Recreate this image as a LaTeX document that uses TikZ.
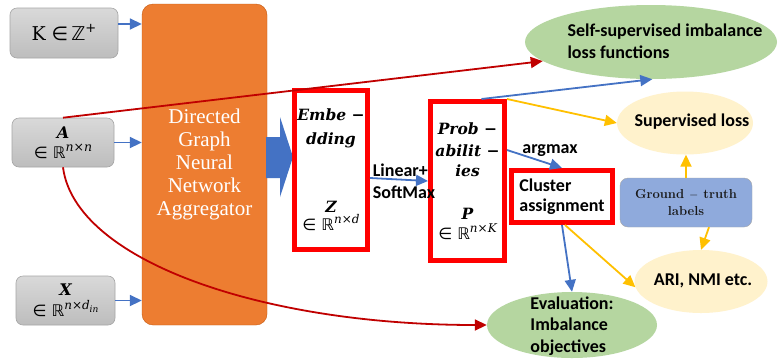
\documentclass[tikz,border=0pt]{standalone}
\usepackage{fontspec}
\newfontfamily\carl{Carlito}
\newfontfamily\serifb{Liberation Serif}
\newfontfamily\dvs{DejaVu Serif}
\newfontfamily\dvsans{DejaVu Sans}
\newcommand{\bi}[1]{{\dvs\bfseries\itshape #1}}
\newcommand{\supr}[3]{\raisebox{#1}{\fontsize{#2}{#2}\selectfont\dvs\itshape #3}}
\newcommand{\inR}{{\dvsans ∈ ℝ}}
\usetikzlibrary{arrows.meta,shapes.geometric,calc}
\definecolor{myblue}{HTML}{4472C4}
\definecolor{myred}{HTML}{C00000}
\definecolor{myyel}{HTML}{FFC000}
\definecolor{myorange}{HTML}{ED7D31}
\definecolor{orangeedge}{HTML}{C55A11}
\definecolor{mygreen}{HTML}{B5D6A0}
\definecolor{mycream}{HTML}{FFF2CC}
\definecolor{gtblue}{HTML}{8FAADC}
\definecolor{grayedge}{HTML}{A6A6A6}
\definecolor{graytop}{HTML}{D9D9D9}
\definecolor{graybot}{HTML}{BDBDBD}
\definecolor{boxred}{HTML}{FF0000}
\begin{document}
\begin{tikzpicture}[x=1pt,y=-1pt,
  graybox/.style={draw=grayedge, rounded corners=7pt, top color=graytop, bottom color=graybot, inner sep=0pt, line width=0.6pt, align=center},
  redbox/.style={draw=boxred, line width=5pt, fill=white, inner sep=0pt, align=center},
  ell/.style={ellipse, inner sep=0pt, draw=none},
  tip/.style={-{Triangle[length=12pt,width=11pt]}},
  barrow/.style={myblue, line width=1.8pt, tip},
  rarrow/.style={myred, line width=1.8pt, tip},
  yarrow/.style={myyel, line width=1.8pt, tip},
  sanslab/.style={font=\carl\bfseries\fontsize{18}{22}\selectfont, align=left, inner sep=0pt},
  elltext/.style={font=\carl\bfseries\fontsize{18}{21.5}\selectfont, align=left, inner sep=0pt}
]
\fill[white] (0,0) rectangle (778,360);
\useasboundingbox (0,0) rectangle (778,360);

% input boxes
\node[graybox, minimum width=108pt, minimum height=50pt, font=\fontsize{19}{22}\selectfont] (K) at (64,33) {{\dvs K} {\dvsans ∈\,ℤ}\raisebox{8pt}{\fontsize{13}{13}\selectfont\dvsans +}};
\node[graybox, minimum width=102pt, minimum height=49pt, font=\fontsize{16}{20}\selectfont] (A) at (63,142.5) {\bi{A}\\\inR\supr{7pt}{12.5}{n×n}};
\node[graybox, minimum width=99pt, minimum height=49pt, font=\fontsize{16}{21}\selectfont] (X) at (65.5,300.5) {\bi{X}\\\inR\supr{7pt}{12}{n×d\raisebox{-3pt}{\fontsize{9}{9}\selectfont in}}};

% aggregator
\node[draw=orangeedge, fill=myorange, rounded corners=11pt, minimum width=125pt, minimum height=321pt, inner sep=0pt, align=center, text=white, font=\serifb\fontsize{21}{23}\selectfont] (agg) at (204.5,164.5) {Directed\\Graph\\Neural\\Network\\Aggregator};

% big arrow
\fill[myblue] (266,137) -- (280,137) -- (280,117) -- (293,157) -- (280,197) -- (280,178) -- (266,178) -- cycle;

% embedding and probabilities
\node[redbox, minimum width=73pt, minimum height=159pt, font=\fontsize{15.5}{19}\selectfont] (emb) at (331,170)
  {\bi{Embe −}\\[5pt]\bi{dding}\\[49pt]\bi{Z}\\[-1pt]{\fontsize{16}{19}\selectfont\inR\supr{7pt}{12}{n×d}}};
\node[redbox, minimum width=74pt, minimum height=159pt, font=\fontsize{15.5}{19}\selectfont] (prob) at (467.5,181)
  {\bi{Prob −}\\[3pt]\bi{abilit −}\\[1pt]\bi{ies}\\[24pt]\bi{P}\\[1pt]{\fontsize{16}{19}\selectfont\inR\supr{7pt}{12}{n×K}}};
\node[redbox, minimum width=101pt, minimum height=52pt, font=\carl\bfseries\fontsize{18}{20}\selectfont, align=left] (clu) at (562,196.5) {Cluster\\assignment};

% labels
\node[sanslab] (lin) at (404,181) {Linear+\\SoftMax};
\node[sanslab] (argm) at (550,151) {argmax};

% ellipses
\node[ell, fill=mygreen, minimum width=252pt, minimum height=74pt] (ss) at (651,42) {};
\node[elltext] (sstext) at (665,41) {Self-supervised imbalance\\loss functions};
\node[ell, fill=mycream, minimum width=136pt, minimum height=63pt] (sup) at (685,123) {};
\node[elltext] (suptext) at (692,122) {Supervised loss};
\node[draw=grayedge, fill=gtblue, rounded corners=8pt, minimum width=132pt, minimum height=49pt, inner sep=0pt, align=center, font=\bfseries\fontsize{13}{17}\selectfont, text=black!90] (gt) at (686,202.5) {Ground $-$ truth\\labels};
\node[ell, fill=mycream, minimum width=133pt, minimum height=63pt] (ari) at (701,281.5) {};
\node[elltext] (aritext) at (703,281) {ARI, NMI etc.};
\node[ell, fill=mygreen, minimum width=170pt, minimum height=66pt] (ev) at (572,325) {};
\node[elltext] (evtext) at (572,326) {Evaluation:\\Imbalance\\objectives};

% input arrows
\draw[barrow] ([yshift=9pt]K.east) -- ([yshift=9pt]K.east -| agg.west);
\draw[barrow] (A.east) -- (A.east -| agg.west);
\draw[barrow] (X.east) -- (X.east -| agg.west);

% red connectors
\draw[rarrow] (A.north) -- (ss.190);
\draw[rarrow] (A.south) .. controls (75,260) and (260,325) .. (ev.west);

% blue connectors
\draw[barrow] ([yshift=-8pt]emb.east) -- (prob.west);
\draw[barrow] ([yshift=31pt]prob.east) -- (clu.north);
\draw[barrow] ([xshift=14pt]prob.north) -- (ss.272);
\draw[barrow] (clu.south) -- (ev.north);

% yellow connectors
\draw[yarrow] (prob.north east) -- (sup.west);
\draw[yarrow] (gt.north) -- (gt.north |- sup.south);
\draw[yarrow] ([xshift=23pt]gt.south) -- (ari.north);
\draw[yarrow] ([xshift=3pt]clu.south) -- (ari.185);
\end{tikzpicture}
\end{document}
